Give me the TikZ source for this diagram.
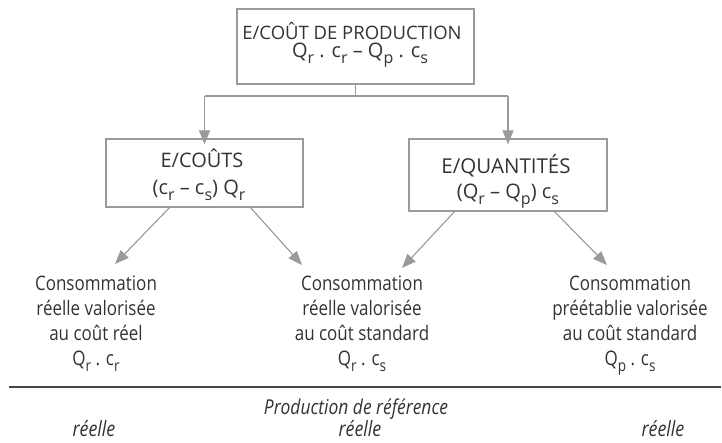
\documentclass[tikz,border=0pt]{standalone}
\usepackage{fontspec}
\setmainfont{Open Sans}[FakeStretch=0.85]
\newfontfamily\boxfont{Open Sans}
\usetikzlibrary{arrows.meta}
\definecolor{boxgray}{HTML}{9A9A9A}
\definecolor{txtgray}{HTML}{333333}
\definecolor{rulegray}{HTML}{444444}
\newcommand\sbs[1]{\raisebox{-0.3em}{\scalebox{0.8}{#1}}}
\begin{document}
\begin{tikzpicture}[x=1pt,y=-1pt,
  boxnode/.style={draw=boxgray,line width=1.2pt,inner sep=0pt},
  boxtext/.style={anchor=base,text=txtgray,inner sep=0pt,font=\boxfont\fontsize{20}{24}\selectfont},
  txtnode/.style={anchor=north,align=center,inner sep=0pt,text=txtgray,font=\fontsize{20}{25}\selectfont},
  itnode/.style={anchor=base,inner sep=0pt,text=txtgray,font=\fontsize{20.5}{24}\selectfont\itshape},
  conn/.style={draw=boxgray,line width=1.1pt},
  arr/.style={conn,-{Triangle[length=14pt,width=11pt]},fill=boxgray}]
\useasboundingbox (0,0) rectangle (722,442);
% boxes
\node[boxnode,minimum width=237pt,minimum height=75pt] (top) at (355.5,46.5) {};
\node[boxnode,minimum width=197pt,minimum height=68pt] (left) at (204.5,173) {};
\node[boxnode,minimum width=198pt,minimum height=72pt] (right) at (508,175) {};
% box texts
\node[boxtext,font=\boxfont\fontsize{18.5}{24}\selectfont] (topA) at (352,39) {E/COÛT DE PRODUCTION};
\node[boxtext] (topB) at (360,57) {Q\sbs{r} . c\sbs{r} – Q\sbs{p} . c\sbs{s}};
\node[boxtext] (leftA) at (202,167) {E/COÛTS};
\node[boxtext] (leftB) at (199,194) {(c\sbs{r} – c\sbs{s}) Q\sbs{r}};
\node[boxtext,font=\boxfont\fontsize{20.5}{24}\selectfont] (rightA) at (506,173) {E/QUANTITÉS};
\node[boxtext] (rightB) at (508,198) {(Q\sbs{r} – Q\sbs{p}) c\sbs{s}};
% tree connectors
\coordinate (j) at (355.5,96);
\coordinate (jl) at (204.5,96);
\coordinate (jr) at (508,96);
\draw[conn] (top.south) -- (j);
\draw[conn] (jl) -- (jr);
\draw[arr] (jl) -- ([yshift=-6pt]left.north);
\draw[arr] (jr) -- ([yshift=-6pt]right.north);
% bottom texts
\node[txtnode] (c1) at (96,275.5) {Consommation\\réelle valorisée\\au coût réel\\Q\sbs{r} . c\sbs{r}};
\node[txtnode] (c2) at (362,275.5) {Consommation\\réelle valorisée\\au coût standard\\Q\sbs{r} . c\sbs{s}};
\node[txtnode] (c3) at (630,275.5) {Consommation\\préétablie valorisée\\au coût standard\\Q\sbs{p} . c\sbs{s}};
% diagonal arrows
\coordinate (s1) at (170,207);
\coordinate (s2) at (250,207);
\coordinate (s3) at (455,211);
\coordinate (s4) at (554,211);
\coordinate (t1) at (115,264);
\coordinate (t2) at (302,265);
\coordinate (t3) at (402,268);
\coordinate (t4) at (607,265);
\draw[arr] (s1) -- (t1);
\draw[arr] (s2) -- (t2);
\draw[arr] (s3) -- (t3);
\draw[arr] (s4) -- (t4);
% rule and bottom labels
\coordinate (r1) at (9,387);
\coordinate (r2) at (721,387);
\draw[draw=rulegray,line width=1.4pt] (r1) -- (r2);
\node[itnode] (prod) at (356,414) {Production de référence};
\node[itnode,font=\fontsize{21}{24}\selectfont\itshape] (re1) at (94,436) {réelle};
\node[itnode,font=\fontsize{21}{24}\selectfont\itshape] (re2) at (360,436) {réelle};
\node[itnode,font=\fontsize{21}{24}\selectfont\itshape] (re3) at (663,436) {réelle};
\end{tikzpicture}
\end{document}
